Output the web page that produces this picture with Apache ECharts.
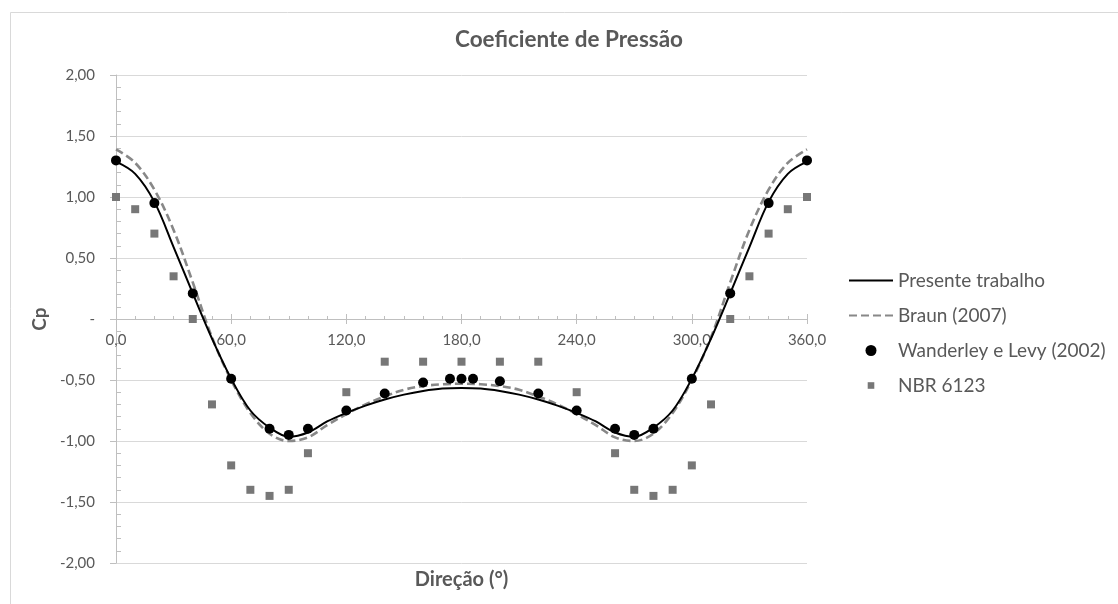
<!DOCTYPE html>
<html>
<head>
<meta charset="utf-8">
<style>
  html, body { margin: 0; padding: 0; background: #ffffff; }
  #chart { width: 1118px; height: 604px; }
</style>
<script src="https://cdn.jsdelivr.net/npm/echarts@6/dist/echarts.min.js"></script>
</head>
<body>
<div id="chart"></div>
<script>
// Pressure coefficient (Cp) around the section, by wind direction (degrees)
const seriesNames = ['Presente trabalho', 'Braun (2007)', 'Wanderley e Levy (2002)', 'NBR 6123'];

// Continuous curves, sampled every 10 degrees
const curveAngles = [0, 10, 20, 30, 40, 50, 60, 70, 80, 90, 100, 110, 120, 130, 140, 150, 160, 170, 180,
  190, 200, 210, 220, 230, 240, 250, 260, 270, 280, 290, 300, 310, 320, 330, 340, 350, 360];
const presenteCp = [1.29, 1.19, 0.96, 0.59, 0.21, -0.16, -0.49, -0.75, -0.89, -0.965, -0.93, -0.84, -0.77,
  -0.71, -0.66, -0.62, -0.59, -0.57, -0.565, -0.57, -0.59, -0.62, -0.66, -0.71, -0.77, -0.84, -0.93,
  -0.965, -0.89, -0.75, -0.49, -0.16, 0.21, 0.59, 0.96, 1.19, 1.29];
const braunCp = [1.39, 1.28, 1.06, 0.73, 0.30, -0.15, -0.50, -0.77, -0.94, -1.00, -0.97, -0.87, -0.78,
  -0.70, -0.635, -0.58, -0.55, -0.535, -0.53, -0.535, -0.55, -0.58, -0.635, -0.70, -0.78, -0.87, -0.97,
  -1.00, -0.94, -0.77, -0.50, -0.15, 0.30, 0.73, 1.06, 1.28, 1.39];

// Wanderley e Levy (2002) measurements
const wanderleyAngles = [0, 20, 40, 60, 80, 90, 100, 120, 140, 160, 174, 180, 186, 200, 220, 240, 260, 270, 280, 300, 320, 340, 360];
const wanderleyCp = [1.30, 0.95, 0.21, -0.49, -0.90, -0.95, -0.90, -0.75, -0.61, -0.52, -0.49, -0.49, -0.49,
  -0.51, -0.61, -0.75, -0.90, -0.95, -0.90, -0.49, 0.21, 0.95, 1.30];

// NBR 6123 coefficients
const nbrAngles = [0, 10, 20, 30, 40, 50, 60, 70, 80, 90, 100, 120, 140, 160, 180, 200, 220, 240, 260, 270, 280, 290, 300, 310, 320, 330, 340, 350, 360];
const nbrCp = [1.00, 0.90, 0.70, 0.35, 0.00, -0.70, -1.20, -1.40, -1.45, -1.40, -1.10, -0.60, -0.35, -0.35,
  -0.35, -0.35, -0.35, -0.60, -1.10, -1.40, -1.45, -1.40, -1.20, -0.70, 0.00, 0.35, 0.70, 0.90, 1.00];

// Axis ranges
const xMin = 0, xMax = 360, xStep = 60;
const yMin = -2, yMax = 2, yStep = 0.5;

const pair = (xs, ys) => xs.map((x, i) => [x, ys[i]]);

const fontFamily = 'Lato, "Open Sans", "Noto Sans", sans-serif';
const textColor = '#595959';
const axisColor = '#bfbfbf';

// plot box
const gridTop = 75, gridBottom = 41, gridLeft = 116, gridRight = 311;
const plotHeight = 604 - gridTop - gridBottom;
// the direction axis sits on Cp = 0
const zeroShift = plotHeight * (0 - yMin) / (yMax - yMin);

const fmtX = v => v.toFixed(1).replace('.', ',');
const fmtY = v => Math.abs(v) < 1e-9 ? '-' : v.toFixed(2).replace('.', ',');

// small square legend marker with some breathing room around it
const squareIcon = 'path://M0,0M10,10M2,2h6v6h-6z';

const chart = echarts.init(document.getElementById('chart'), null, { renderer: 'canvas' });

chart.setOption({
  animation: false,
  backgroundColor: '#ffffff',
  graphic: [{
    type: 'rect',
    shape: { x: 10.5, y: 12.5, width: 1200, height: 700 },
    style: { fill: 'none', stroke: '#d9d9d9', lineWidth: 1 },
    silent: true,
    z: -10
  }],
  title: {
    text: 'Coeficiente de Pressão',
    left: 564,
    top: 23,
    textAlign: 'center',
    textStyle: { fontFamily, fontSize: 22.5, fontWeight: 'bold', color: textColor }
  },
  legend: {
    orient: 'vertical',
    left: 843,
    top: 266,
    itemWidth: 44,
    itemHeight: 11,
    itemGap: 16,
    textStyle: { fontFamily, fontSize: 19, color: textColor },
    data: [
      { name: seriesNames[0], itemStyle: { opacity: 0 } },
      { name: seriesNames[1], itemStyle: { opacity: 0 } },
      { name: seriesNames[2], icon: 'circle' },
      { name: seriesNames[3], icon: squareIcon }
    ]
  },
  grid: { left: gridLeft, right: gridRight, top: gridTop, bottom: gridBottom, containLabel: false },
  xAxis: [{
    type: 'value',
    position: 'bottom',
    offset: -zeroShift,
    min: xMin, max: xMax, interval: xStep,
    name: 'Direção (°)',
    nameLocation: 'middle',
    nameGap: zeroShift + 7,
    nameMoveOverlap: false,
    nameTextStyle: { fontFamily, fontSize: 20, fontWeight: 'bold', color: textColor },
    axisLine: { show: true, onZero: false, lineStyle: { color: axisColor, width: 1 } },
    axisTick: { show: true, inside: true, length: 5, lineStyle: { color: axisColor } },
    minorTick: { show: true, splitNumber: 6, length: 3, lineStyle: { color: axisColor } },
    axisLabel: { fontFamily, fontSize: 15, color: textColor, margin: 14, formatter: fmtX },
    splitLine: { show: false }
  }, {
    type: 'value',
    position: 'bottom',
    offset: -zeroShift,
    min: xMin, max: xMax, interval: xStep,
    axisLine: { show: false, onZero: false },
    axisTick: { show: true, inside: false, length: 5, lineStyle: { color: axisColor } },
    axisLabel: { show: false },
    splitLine: { show: false }
  }],
  yAxis: [{
    type: 'value',
    min: yMin, max: yMax, interval: yStep,
    name: 'Cp',
    nameLocation: 'middle',
    nameGap: 63,
    nameRotate: 90,
    nameTextStyle: { fontFamily, fontSize: 19, fontWeight: 'bold', color: textColor },
    axisLine: { show: true, onZero: false, lineStyle: { color: axisColor, width: 1 } },
    axisTick: { show: true, inside: false, length: 6, lineStyle: { color: axisColor } },
    axisLabel: { fontFamily, fontSize: 15, color: textColor, margin: 21, formatter: fmtY },
    splitLine: { show: true, lineStyle: { color: '#d9d9d9', width: 1 } }
  }, {
    type: 'value',
    position: 'left',
    min: yMin, max: yMax, interval: yStep,
    axisLine: { show: false, onZero: false },
    axisTick: { show: false, inside: true },
    minorTick: { show: true, splitNumber: 5, length: 5, lineStyle: { color: axisColor } },
    axisLabel: { show: false },
    splitLine: { show: false }
  }],
  series: [{
    name: seriesNames[0],
    type: 'line',
    data: pair(curveAngles, presenteCp),
    smooth: 0.35,
    showSymbol: false,
    symbol: 'none',
    lineStyle: { color: '#000000', width: 2 },
    itemStyle: { color: '#000000' },
    z: 4
  }, {
    name: seriesNames[1],
    type: 'line',
    data: pair(curveAngles, braunCp),
    smooth: 0.35,
    showSymbol: false,
    symbol: 'none',
    lineStyle: { color: '#888888', width: 2.6, type: [8, 4] },
    itemStyle: { color: '#888888' },
    z: 3
  }, {
    name: seriesNames[2],
    type: 'scatter',
    data: pair(wanderleyAngles, wanderleyCp),
    symbol: 'circle',
    symbolSize: 10,
    itemStyle: { color: '#000000', opacity: 1 },
    z: 5
  }, {
    name: seriesNames[3],
    type: 'scatter',
    data: pair(nbrAngles, nbrCp),
    symbol: 'rect',
    symbolSize: 8,
    itemStyle: { color: '#777777', opacity: 1 },
    z: 5
  }]
});
</script>
</body>
</html>
